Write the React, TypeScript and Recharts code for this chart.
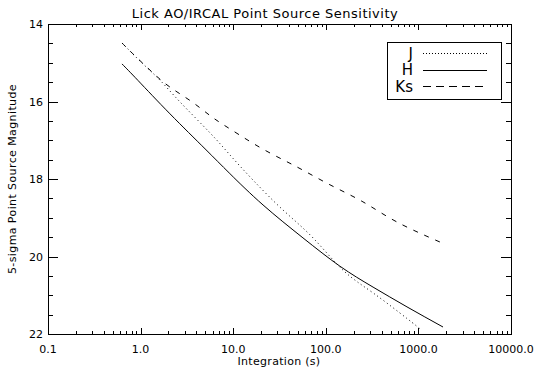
import { LineChart, Line, XAxis, YAxis, ReferenceArea, Legend } from 'recharts';

// integration times (s) and 5-sigma magnitudes
const jTimes = [0.63, 1.04, 1.62, 2.66, 5.62, 9.23, 16.4, 34.5, 72.8, 153, 324, 753, 1060];
const jMags = [14.49, 15.01, 15.45, 16.01, 16.81, 17.38, 18.03, 18.8, 19.52, 20.35, 20.94, 21.6, 21.88];

const hTimes = [0.63, 0.94, 2.08, 4.96, 9.2, 21, 56.7, 142, 324, 753, 1845];
const hMags = [15.03, 15.46, 16.32, 17.22, 17.86, 18.67, 19.52, 20.25, 20.79, 21.3, 21.82];

const ksTimes = [0.63, 0.81, 1.33, 2.08, 3.59, 5.9, 9.7, 21, 48.9, 111, 252, 587, 1800];
const ksMags = [14.49, 14.75, 15.24, 15.63, 16.01, 16.4, 16.74, 17.23, 17.69, 18.15, 18.59, 19.11, 19.65];

const seriesOrder = ['J', 'H', 'Ks'];

const xMajorTicks = [0.1, 1, 10, 100, 1000, 10000];
const xTickLabels = ['0.1', '1.0', '10.0', '100.0', '1000.0', '10000.0'];
const xMinorSteps = [2, 3, 4, 5, 6, 7, 8, 9];
const yTicks = [14, 14.5, 15, 15.5, 16, 16.5, 17, 17.5, 18, 18.5, 19, 19.5, 20, 20.5, 21, 21.5, 22];
const yMajorTicks = [14, 16, 18, 20, 22];

const xTicks = [
  ...xMajorTicks,
  ...xMajorTicks.slice(0, -1).flatMap((d) => xMinorSteps.map((s) => d * s)),
].sort((a, b) => a - b);

const toPoints = (times: number[], mags: number[]) => times.map((t, i) => ({ t, mag: mags[i] }));
const jData = toPoints(jTimes, jMags);
const hData = toPoints(hTimes, hMags);
const ksData = toPoints(ksTimes, ksMags);

const W = 543;
const H = 373;
const PLOT_LEFT = 48;
const PLOT_RIGHT = 511;
const PLOT_TOP = 24;
const PLOT_BOTTOM = 334;
const FONT = 'DejaVu Sans, sans-serif';

const legendDash: Record<string, string | undefined> = { J: '1 2', H: undefined, Ks: '8 5' };

function XTick({ x, y, payload }: any) {
  const v = payload.value;
  const idx = xMajorTicks.findIndex((m) => Math.abs(m - v) < 1e-9);
  const len = idx >= 0 ? 6 : 3;
  const px = Math.round(x) + 0.5;
  return (
    <g>
      <path d={`M${px},${PLOT_BOTTOM}V${PLOT_BOTTOM - len}M${px},${PLOT_TOP}V${PLOT_TOP + len}`} stroke="#000" strokeWidth={1} fill="none" />
      {idx >= 0 && (
        <text x={x} y={y + 19} textAnchor="middle" fontSize={11} fontFamily={FONT} fill="#000">
          {xTickLabels[idx]}
        </text>
      )}
    </g>
  );
}

function YTick({ x, y, payload }: any) {
  const v = payload.value;
  const major = yMajorTicks.includes(v);
  const len = major ? 10 : 5;
  const py = Math.round(y) + 0.5;
  return (
    <g>
      <path d={`M${PLOT_LEFT},${py}H${PLOT_LEFT + len}M${PLOT_RIGHT},${py}H${PLOT_RIGHT - len}`} stroke="#000" strokeWidth={1} fill="none" />
      {major && (
        <text x={x - 5} y={y + 4} textAnchor="end" fontSize={11} fontFamily={FONT} fill="#000">
          {v}
        </text>
      )}
    </g>
  );
}

function LegendBox({ payload }: any) {
  const items = [...(payload || [])].sort(
    (a: any, b: any) => seriesOrder.indexOf(a.value) - seriesOrder.indexOf(b.value)
  );
  return (
    <svg width={116} height={58} style={{ display: 'block' }}>
      <rect x={0.5} y={0.5} width={114} height={57} fill="#fff" stroke="#000" shapeRendering="crispEdges" />
      {items.map((item: any, i: number) => {
        const cy = 11.5 + i * 16.5;
        return (
          <g key={item.value}>
            <text x={26} y={cy + 5} textAnchor="end" fontSize={15} fontFamily={FONT} fill="#000">
              {item.value}
            </text>
            <line
              x1={36}
              x2={100}
              y1={cy}
              y2={cy}
              stroke="#000"
              strokeDasharray={legendDash[item.value]}
              shapeRendering="crispEdges"
            />
          </g>
        );
      })}
    </svg>
  );
}

export default function App() {
  return (
    <div style={{ position: 'absolute', left: 0, top: 0, width: W, height: H, background: '#fff' }}>
      <LineChart
        width={W}
        height={H}
        margin={{ top: PLOT_TOP, right: W - PLOT_RIGHT, bottom: 0, left: 0 }}
      >
        <XAxis
          dataKey="t"
          type="number"
          scale="log"
          domain={[0.1, 10000]}
          ticks={xTicks}
          interval={0}
          allowDataOverflow
          height={H - PLOT_BOTTOM}
          tickSize={0}
          tickMargin={0}
          tickLine={false}
          axisLine={false}
          tick={<XTick />}
        />
        <YAxis
          type="number"
          domain={[14, 22]}
          reversed
          ticks={yTicks}
          interval={0}
          allowDataOverflow
          width={PLOT_LEFT}
          tickSize={0}
          tickMargin={0}
          tickLine={false}
          axisLine={false}
          tick={<YTick />}
        />
        <ReferenceArea
          x1={0.1}
          x2={10000}
          y1={14}
          y2={22}
          fill="none"
          fillOpacity={0}
          stroke="#000"
          strokeOpacity={1}
          shapeRendering="crispEdges"
        />
        <Line
          data={jData}
          dataKey="mag"
          name="J"
          type="natural"
          stroke="#000"
          strokeWidth={1}
          strokeDasharray="1 3"
          dot={false}
          isAnimationActive={false}
        />
        <Line
          data={hData}
          dataKey="mag"
          name="H"
          type="natural"
          stroke="#000"
          strokeWidth={1}
          dot={false}
          isAnimationActive={false}
        />
        <Line
          data={ksData}
          dataKey="mag"
          name="Ks"
          type="natural"
          stroke="#000"
          strokeWidth={1}
          strokeDasharray="5 7"
          dot={false}
          isAnimationActive={false}
        />
        <Legend
          layout="vertical"
          align="center"
          verticalAlign="middle"
          wrapperStyle={{ left: 387, top: 42, width: 116, height: 58 }}
          content={<LegendBox />}
        />
        <text x={265} y={18} textAnchor="middle" fontSize={13} letterSpacing={0.5} fontFamily={FONT} fill="#000">
          Lick AO/IRCAL Point Source Sensitivity
        </text>
        <text x={279} y={365} textAnchor="middle" fontSize={11} letterSpacing={0.3} fontFamily={FONT} fill="#000">
          Integration (s)
        </text>
        <text
          x={16}
          y={179}
          textAnchor="middle"
          fontSize={11}
          letterSpacing={0.4}
          fontFamily={FONT}
          fill="#000"
          transform="rotate(-90 16 179)"
        >
          5-sigma Point Source Magnitude
        </text>
      </LineChart>
    </div>
  );
}
